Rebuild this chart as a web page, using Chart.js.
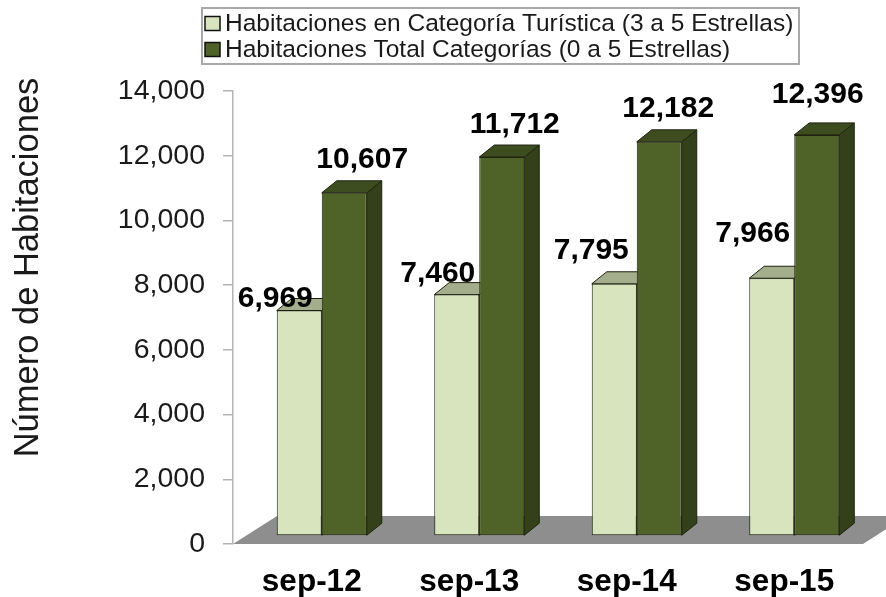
<!DOCTYPE html>
<html><head><meta charset="utf-8">
<script src="https://cdn.jsdelivr.net/npm/chart.js@4.4.1/dist/chart.umd.min.js"></script>
<style>html,body{margin:0;padding:0;background:#fff;overflow:hidden}#wrap{width:886px;height:597px}</style>
</head><body><div id="wrap"><canvas id="c" width="886" height="597"></canvas></div>
<script>
// ---- data ----
const categories = ['sep-12', 'sep-13', 'sep-14', 'sep-15'];
const turisticaValues = [6969, 7460, 7795, 7966];
const totalValues = [10607, 11712, 12182, 12396];
const seriesNames = ['Habitaciones en Categoría Turística (3 a 5 Estrellas)', 'Habitaciones Total Categorías (0 a 5 Estrellas)'];
const yTickValues = [0, 2000, 4000, 6000, 8000, 10000, 12000, 14000];
const yTitle = 'Número de Habitaciones';

// ---- styles ----
const FONT = '"Liberation Sans", Arial, sans-serif';
const frontColors = ['#d7e4bd', '#4f6228'];
const faceColors = [{top: '#a5ae8c', side: '#b6c49a'}, {top: '#3e4d1f', side: '#33401a'}];
const outline = '#1e220f';
const BAR_DEPTH = {dx: 15, dy: -12};
const BAR_SHIFT = {dx: 10, dy: -8};
const FLOOR_DEPTH = {dx: 44, dy: -28};
const labelNudge = [
  [[-24, -4], [-19, -13], [-23, -25], [-19, -36]],
  [[18, -25], [13, -24], [9, -25], [1, -32]]
];

function poly(ctx, pts, fill, stroke) {
  ctx.beginPath();
  ctx.moveTo(pts[0][0], pts[0][1]);
  for (let i = 1; i < pts.length; i++) ctx.lineTo(pts[i][0], pts[i][1]);
  ctx.closePath();
  ctx.fillStyle = fill; ctx.fill();
  if (stroke) { ctx.lineWidth = 1; ctx.strokeStyle = stroke; ctx.stroke(); }
}

const bar3d = {
  id: 'bar3d',
  beforeDatasetsDraw(chart) {
    const ctx = chart.ctx, a = chart.chartArea;
    ctx.save();
    // floor
    poly(ctx, [[a.left, a.bottom], [a.right, a.bottom],
      [a.right + FLOOR_DEPTH.dx, a.bottom + FLOOR_DEPTH.dy],
      [a.left + FLOOR_DEPTH.dx, a.bottom + FLOOR_DEPTH.dy]], '#8e8e8e');
    ctx.translate(BAR_SHIFT.dx, BAR_SHIFT.dy);
    chart.data.datasets.forEach((ds, di) => {
      chart.getDatasetMeta(di).data.forEach(el => {
        const l = el.x - el.width / 2, r = el.x + el.width / 2, t = el.y, b = el.base;
        const dx = BAR_DEPTH.dx, dy = BAR_DEPTH.dy;
        poly(ctx, [[r, t], [r + dx, t + dy], [r + dx, b + dy], [r, b]], faceColors[di].side, outline);
        poly(ctx, [[l, t], [l + dx, t + dy], [r + dx, t + dy], [r, t]], faceColors[di].top, outline);
      });
    });
  },
  afterDatasetsDraw(chart) {
    const ctx = chart.ctx;
    ctx.restore();
    // data labels
    ctx.save();
    ctx.font = 'bold 30px ' + FONT;
    ctx.fillStyle = '#000';
    ctx.textAlign = 'center';
    ctx.textBaseline = 'alphabetic';
    chart.data.datasets.forEach((ds, di) => {
      chart.getDatasetMeta(di).data.forEach((el, i) => {
        const n = labelNudge[di][i];
        ctx.fillText(ds.data[i].toLocaleString('en-US'),
          el.x + BAR_SHIFT.dx + n[0], el.y + BAR_SHIFT.dy + n[1]);
      });
    });
    ctx.restore();
  },
  afterDraw(chart) {
    const ctx = chart.ctx;
    ctx.save();
    // legend
    ctx.strokeStyle = '#a8a8a8'; ctx.lineWidth = 2;
    ctx.strokeRect(202, 8, 597, 56);
    ctx.font = '24.5px ' + FONT;
    ctx.textBaseline = 'middle'; ctx.textAlign = 'left';
    chart.data.datasets.forEach((ds, di) => {
      const cy = 23.5 + di * 26;
      ctx.fillStyle = ds.backgroundColor;
      ctx.fillRect(205, cy - 7, 15, 14);
      ctx.strokeStyle = '#111'; ctx.lineWidth = 1.5;
      ctx.strokeRect(205, cy - 7, 15, 14);
      ctx.fillStyle = '#1a1a1a';
      ctx.fillText(ds.label, 225, cy + 1);
    });
    // y title
    ctx.translate(28, 267.5);
    ctx.rotate(-Math.PI / 2);
    ctx.font = '34.5px ' + FONT;
    ctx.textAlign = 'center'; ctx.textBaseline = 'middle';
    ctx.fillStyle = '#1a1a1a';
    ctx.fillText(yTitle, 0, 0);
    ctx.restore();
  }
};

new Chart(document.getElementById('c'), {
  type: 'bar',
  data: {
    labels: categories,
    datasets: [
      {label: seriesNames[0], data: turisticaValues, backgroundColor: frontColors[0], borderColor: outline, borderWidth: 1, borderSkipped: false},
      {label: seriesNames[1], data: totalValues, backgroundColor: frontColors[1], borderColor: outline, borderWidth: 1, borderSkipped: false}
    ]
  },
  options: {
    responsive: false,
    devicePixelRatio: 1,
    animation: false,
    clip: false,
    categoryPercentage: 90 / 157.5,
    barPercentage: 1,
    layout: {padding: {top: 91, right: 23, bottom: 0, left: 0}},
    plugins: {legend: {display: false}, tooltip: {enabled: false}, title: {display: false}},
    scales: {
      x: {
        grid: {display: false, drawTicks: false},
        border: {display: false},
        ticks: {font: {family: FONT, size: 31.5, weight: 'bold'}, color: '#000', padding: 19, maxRotation: 0},
        afterFit(s) { s.height = 53; }
      },
      y: {
        min: 0, max: 14000,
        afterBuildTicks(s) { s.ticks = yTickValues.map(v => ({value: v})); },
        grid: {drawOnChartArea: false, drawTicks: true, tickLength: 10, color: '#b4b4b4', lineWidth: 1.5},
        border: {display: true, color: '#b4b4b4', width: 1.5},
        ticks: {font: {family: FONT, size: 28.5}, color: '#1a1a1a', padding: 18,
          callback: v => Number(v).toLocaleString('en-US')},
        afterFit(s) { s.width = 233; }
      }
    }
  },
  plugins: [bar3d]
});
</script>
</body></html>
